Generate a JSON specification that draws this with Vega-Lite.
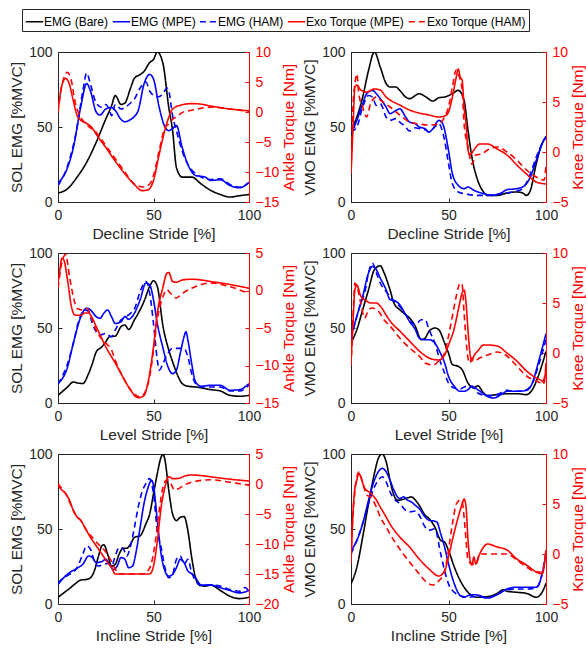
{
"$schema":"https://vega.github.io/schema/vega-lite/v6.json",
"padding":{"left":9,"top":8,"right":0,"bottom":0},
"config":{
 "view":{"stroke":"#262626","strokeWidth":1},
 "font":"Liberation Sans",
 "axis":{"labelFont":"Liberation Sans","titleFont":"Liberation Sans","labelFontSize":14,"titleFontSize":15.5,"titleFontWeight":"normal","labelColor":"#262626","titleColor":"#262626","domainColor":"#262626","tickColor":"#262626","grid":false,"tickSize":-4,"labelPadding":10,"titlePadding":4,"labelFlush":false,"labelOverlap":false},
 "legend":{"orient":"none","legendX":-36,"legendY":-43,"direction":"horizontal","labelFont":"Liberation Sans","labelFontSize":12,"labelColor":"#000000","symbolType":"stroke","symbolSize":300,"symbolStrokeWidth":1.5,"labelOffset":0,"columnPadding":0,"padding":3,"strokeColor":"#262626","fillColor":"white","title":null}
},
"data":{"values":[
{"p":"DS","s":"EB","x":0,"y":6},{"p":"DS","s":"EB","x":5,"y":8.8},{"p":"DS","s":"EB","x":10,"y":16.6},{"p":"DS","s":"EB","x":15,"y":26.5},{"p":"DS","s":"EB","x":20,"y":39.8},{"p":"DS","s":"EB","x":25,"y":55.3},{"p":"DS","s":"EB","x":28,"y":64},{"p":"DS","s":"EB","x":30,"y":71},{"p":"DS","s":"EB","x":33,"y":65},{"p":"DS","s":"EB","x":35,"y":66},{"p":"DS","s":"EB","x":38,"y":76},{"p":"DS","s":"EB","x":40,"y":82.5},{"p":"DS","s":"EB","x":43,"y":85},{"p":"DS","s":"EB","x":45,"y":87},{"p":"DS","s":"EB","x":48,"y":93},{"p":"DS","s":"EB","x":50,"y":95},{"p":"DS","s":"EB","x":52,"y":100},{"p":"DS","s":"EB","x":55,"y":92},{"p":"DS","s":"EB","x":58,"y":63},{"p":"DS","s":"EB","x":60,"y":47.6},{"p":"DS","s":"EB","x":62,"y":23},{"p":"DS","s":"EB","x":65,"y":16.6},{"p":"DS","s":"EB","x":70,"y":16.6},{"p":"DS","s":"EB","x":75,"y":12},{"p":"DS","s":"EB","x":80,"y":7.7},{"p":"DS","s":"EB","x":85,"y":5},{"p":"DS","s":"EB","x":90,"y":3.3},{"p":"DS","s":"EB","x":95,"y":4.2},{"p":"DS","s":"EB","x":100,"y":5},
{"p":"DS","s":"EM","x":0,"y":12.6},{"p":"DS","s":"EM","x":5,"y":23},{"p":"DS","s":"EM","x":8,"y":36},{"p":"DS","s":"EM","x":12,"y":64},{"p":"DS","s":"EM","x":15,"y":79},{"p":"DS","s":"EM","x":17,"y":74},{"p":"DS","s":"EM","x":20,"y":60},{"p":"DS","s":"EM","x":22,"y":58},{"p":"DS","s":"EM","x":25,"y":62},{"p":"DS","s":"EM","x":28,"y":63},{"p":"DS","s":"EM","x":30,"y":61},{"p":"DS","s":"EM","x":33,"y":55},{"p":"DS","s":"EM","x":35,"y":53.5},{"p":"DS","s":"EM","x":38,"y":55},{"p":"DS","s":"EM","x":40,"y":57},{"p":"DS","s":"EM","x":42,"y":61},{"p":"DS","s":"EM","x":45,"y":78.5},{"p":"DS","s":"EM","x":48,"y":85},{"p":"DS","s":"EM","x":50,"y":82},{"p":"DS","s":"EM","x":53,"y":63},{"p":"DS","s":"EM","x":56,"y":50},{"p":"DS","s":"EM","x":58,"y":47.6},{"p":"DS","s":"EM","x":60,"y":49},{"p":"DS","s":"EM","x":62,"y":51},{"p":"DS","s":"EM","x":65,"y":36.5},{"p":"DS","s":"EM","x":68,"y":25},{"p":"DS","s":"EM","x":72,"y":17.7},{"p":"DS","s":"EM","x":77,"y":16.6},{"p":"DS","s":"EM","x":80,"y":14.4},{"p":"DS","s":"EM","x":85,"y":14.8},{"p":"DS","s":"EM","x":90,"y":11},{"p":"DS","s":"EM","x":95,"y":9.5},{"p":"DS","s":"EM","x":100,"y":13},
{"p":"DS","s":"EH","x":0,"y":11},{"p":"DS","s":"EH","x":5,"y":24},{"p":"DS","s":"EH","x":10,"y":50},{"p":"DS","s":"EH","x":13,"y":74},{"p":"DS","s":"EH","x":15,"y":86},{"p":"DS","s":"EH","x":17,"y":78.5},{"p":"DS","s":"EH","x":20,"y":66},{"p":"DS","s":"EH","x":23,"y":63},{"p":"DS","s":"EH","x":25,"y":65},{"p":"DS","s":"EH","x":27,"y":61},{"p":"DS","s":"EH","x":28,"y":57.5},{"p":"DS","s":"EH","x":30,"y":65},{"p":"DS","s":"EH","x":33,"y":62},{"p":"DS","s":"EH","x":35,"y":63},{"p":"DS","s":"EH","x":38,"y":66},{"p":"DS","s":"EH","x":40,"y":68.6},{"p":"DS","s":"EH","x":43,"y":76},{"p":"DS","s":"EH","x":46,"y":80},{"p":"DS","s":"EH","x":48,"y":74},{"p":"DS","s":"EH","x":50,"y":71},{"p":"DS","s":"EH","x":52,"y":70},{"p":"DS","s":"EH","x":55,"y":72},{"p":"DS","s":"EH","x":57,"y":76},{"p":"DS","s":"EH","x":58,"y":74},{"p":"DS","s":"EH","x":60,"y":57.5},{"p":"DS","s":"EH","x":62,"y":47.6},{"p":"DS","s":"EH","x":65,"y":34},{"p":"DS","s":"EH","x":72,"y":19},{"p":"DS","s":"EH","x":80,"y":15},{"p":"DS","s":"EH","x":85,"y":15.5},{"p":"DS","s":"EH","x":90,"y":11.7},{"p":"DS","s":"EH","x":95,"y":10},{"p":"DS","s":"EH","x":100,"y":13},
{"p":"DS","s":"TM","x":0,"y":0.2},{"p":"DS","s":"TM","x":2,"y":4.4},{"p":"DS","s":"TM","x":4,"y":5.6},{"p":"DS","s":"TM","x":6,"y":4.6},{"p":"DS","s":"TM","x":8,"y":1.9},{"p":"DS","s":"TM","x":10,"y":-0.6},{"p":"DS","s":"TM","x":12,"y":-1.4},{"p":"DS","s":"TM","x":15,"y":-1.9},{"p":"DS","s":"TM","x":18,"y":-2.7},{"p":"DS","s":"TM","x":20,"y":-3.7},{"p":"DS","s":"TM","x":25,"y":-5.9},{"p":"DS","s":"TM","x":30,"y":-8.2},{"p":"DS","s":"TM","x":35,"y":-10.3},{"p":"DS","s":"TM","x":40,"y":-12.1},{"p":"DS","s":"TM","x":44,"y":-13.1},{"p":"DS","s":"TM","x":47,"y":-13},{"p":"DS","s":"TM","x":50,"y":-11.4},{"p":"DS","s":"TM","x":53,"y":-7},{"p":"DS","s":"TM","x":55,"y":-4.2},{"p":"DS","s":"TM","x":58,"y":-0.9},{"p":"DS","s":"TM","x":60,"y":0.5},{"p":"DS","s":"TM","x":65,"y":1.2},{"p":"DS","s":"TM","x":70,"y":1.4},{"p":"DS","s":"TM","x":75,"y":1.3},{"p":"DS","s":"TM","x":80,"y":1},{"p":"DS","s":"TM","x":90,"y":0.5},{"p":"DS","s":"TM","x":100,"y":0.2},
{"p":"DS","s":"TH","x":0,"y":-0.1},{"p":"DS","s":"TH","x":2,"y":4.4},{"p":"DS","s":"TH","x":5,"y":6.6},{"p":"DS","s":"TH","x":7,"y":5.2},{"p":"DS","s":"TH","x":9,"y":1.6},{"p":"DS","s":"TH","x":12,"y":-0.9},{"p":"DS","s":"TH","x":15,"y":-2.1},{"p":"DS","s":"TH","x":20,"y":-3.4},{"p":"DS","s":"TH","x":25,"y":-5.6},{"p":"DS","s":"TH","x":30,"y":-7.8},{"p":"DS","s":"TH","x":35,"y":-10},{"p":"DS","s":"TH","x":40,"y":-12},{"p":"DS","s":"TH","x":45,"y":-12.5},{"p":"DS","s":"TH","x":48,"y":-12},{"p":"DS","s":"TH","x":50,"y":-10.6},{"p":"DS","s":"TH","x":53,"y":-6.4},{"p":"DS","s":"TH","x":56,"y":-2.6},{"p":"DS","s":"TH","x":58,"y":-2},{"p":"DS","s":"TH","x":60,"y":-1.2},{"p":"DS","s":"TH","x":62,"y":-0.8},{"p":"DS","s":"TH","x":65,"y":-0.1},{"p":"DS","s":"TH","x":70,"y":0.3},{"p":"DS","s":"TH","x":80,"y":0.8},{"p":"DS","s":"TH","x":90,"y":0.5},{"p":"DS","s":"TH","x":100,"y":0.1},
{"p":"DV","s":"EB","x":0,"y":47.8},{"p":"DV","s":"EB","x":3,"y":56.7},{"p":"DV","s":"EB","x":6,"y":70},{"p":"DV","s":"EB","x":9,"y":87.8},{"p":"DV","s":"EB","x":12,"y":100},{"p":"DV","s":"EB","x":15,"y":90},{"p":"DV","s":"EB","x":18,"y":79},{"p":"DV","s":"EB","x":20,"y":76.7},{"p":"DV","s":"EB","x":23,"y":76.7},{"p":"DV","s":"EB","x":25,"y":74.4},{"p":"DV","s":"EB","x":28,"y":70},{"p":"DV","s":"EB","x":30,"y":68.9},{"p":"DV","s":"EB","x":35,"y":72.2},{"p":"DV","s":"EB","x":38,"y":70.4},{"p":"DV","s":"EB","x":42,"y":67.3},{"p":"DV","s":"EB","x":45,"y":69.5},{"p":"DV","s":"EB","x":48,"y":70},{"p":"DV","s":"EB","x":52,"y":72.2},{"p":"DV","s":"EB","x":55,"y":74.4},{"p":"DV","s":"EB","x":58,"y":67.8},{"p":"DV","s":"EB","x":60,"y":47.8},{"p":"DV","s":"EB","x":62,"y":30},{"p":"DV","s":"EB","x":65,"y":14.4},{"p":"DV","s":"EB","x":68,"y":6.7},{"p":"DV","s":"EB","x":70,"y":4.4},{"p":"DV","s":"EB","x":75,"y":4.4},{"p":"DV","s":"EB","x":80,"y":6},{"p":"DV","s":"EB","x":85,"y":6.7},{"p":"DV","s":"EB","x":88,"y":6},{"p":"DV","s":"EB","x":90,"y":4.4},{"p":"DV","s":"EB","x":92,"y":7.8},{"p":"DV","s":"EB","x":95,"y":25.6},{"p":"DV","s":"EB","x":98,"y":38.9},{"p":"DV","s":"EB","x":100,"y":43.3},
{"p":"DV","s":"EM","x":0,"y":45.6},{"p":"DV","s":"EM","x":3,"y":54.4},{"p":"DV","s":"EM","x":6,"y":65.6},{"p":"DV","s":"EM","x":8,"y":72.2},{"p":"DV","s":"EM","x":11,"y":74.4},{"p":"DV","s":"EM","x":13,"y":72.2},{"p":"DV","s":"EM","x":15,"y":68.9},{"p":"DV","s":"EM","x":18,"y":63.3},{"p":"DV","s":"EM","x":20,"y":58.9},{"p":"DV","s":"EM","x":23,"y":61},{"p":"DV","s":"EM","x":25,"y":62.2},{"p":"DV","s":"EM","x":28,"y":56.7},{"p":"DV","s":"EM","x":30,"y":53.3},{"p":"DV","s":"EM","x":33,"y":52.2},{"p":"DV","s":"EM","x":35,"y":50},{"p":"DV","s":"EM","x":38,"y":48.9},{"p":"DV","s":"EM","x":40,"y":46.7},{"p":"DV","s":"EM","x":42,"y":48.9},{"p":"DV","s":"EM","x":45,"y":54.4},{"p":"DV","s":"EM","x":47,"y":52.2},{"p":"DV","s":"EM","x":50,"y":34.4},{"p":"DV","s":"EM","x":52,"y":18.9},{"p":"DV","s":"EM","x":55,"y":11.1},{"p":"DV","s":"EM","x":58,"y":8.9},{"p":"DV","s":"EM","x":60,"y":10},{"p":"DV","s":"EM","x":63,"y":7.8},{"p":"DV","s":"EM","x":68,"y":5.6},{"p":"DV","s":"EM","x":72,"y":4.4},{"p":"DV","s":"EM","x":77,"y":6},{"p":"DV","s":"EM","x":80,"y":8.2},{"p":"DV","s":"EM","x":85,"y":8.9},{"p":"DV","s":"EM","x":88,"y":10},{"p":"DV","s":"EM","x":92,"y":16.7},{"p":"DV","s":"EM","x":95,"y":27.8},{"p":"DV","s":"EM","x":98,"y":38.9},{"p":"DV","s":"EM","x":100,"y":43.8},
{"p":"DV","s":"EH","x":0,"y":46.7},{"p":"DV","s":"EH","x":3,"y":50},{"p":"DV","s":"EH","x":6,"y":63.3},{"p":"DV","s":"EH","x":9,"y":71},{"p":"DV","s":"EH","x":11,"y":70},{"p":"DV","s":"EH","x":13,"y":64.4},{"p":"DV","s":"EH","x":15,"y":65.6},{"p":"DV","s":"EH","x":18,"y":56.7},{"p":"DV","s":"EH","x":20,"y":54.4},{"p":"DV","s":"EH","x":23,"y":55.6},{"p":"DV","s":"EH","x":25,"y":53.3},{"p":"DV","s":"EH","x":28,"y":50},{"p":"DV","s":"EH","x":30,"y":47.3},{"p":"DV","s":"EH","x":33,"y":49.5},{"p":"DV","s":"EH","x":35,"y":48.9},{"p":"DV","s":"EH","x":38,"y":48.2},{"p":"DV","s":"EH","x":40,"y":46.7},{"p":"DV","s":"EH","x":43,"y":50},{"p":"DV","s":"EH","x":45,"y":52.2},{"p":"DV","s":"EH","x":48,"y":41},{"p":"DV","s":"EH","x":50,"y":25.6},{"p":"DV","s":"EH","x":52,"y":12.2},{"p":"DV","s":"EH","x":55,"y":6.7},{"p":"DV","s":"EH","x":60,"y":5.1},{"p":"DV","s":"EH","x":65,"y":4.4},{"p":"DV","s":"EH","x":70,"y":4.4},{"p":"DV","s":"EH","x":75,"y":5.1},{"p":"DV","s":"EH","x":80,"y":6},{"p":"DV","s":"EH","x":85,"y":7.3},{"p":"DV","s":"EH","x":88,"y":8.9},{"p":"DV","s":"EH","x":92,"y":18.9},{"p":"DV","s":"EH","x":95,"y":30},{"p":"DV","s":"EH","x":98,"y":38.9},{"p":"DV","s":"EH","x":100,"y":43.3},
{"p":"DV","s":"TM","x":0,"y":-2.2},{"p":"DV","s":"TM","x":1,"y":2.2},{"p":"DV","s":"TM","x":2,"y":6.5},{"p":"DV","s":"TM","x":3,"y":6.7},{"p":"DV","s":"TM","x":5,"y":6.2},{"p":"DV","s":"TM","x":8,"y":6},{"p":"DV","s":"TM","x":12,"y":6.3},{"p":"DV","s":"TM","x":15,"y":6.2},{"p":"DV","s":"TM","x":18,"y":5.5},{"p":"DV","s":"TM","x":20,"y":5.2},{"p":"DV","s":"TM","x":25,"y":4.7},{"p":"DV","s":"TM","x":30,"y":4.2},{"p":"DV","s":"TM","x":35,"y":3.9},{"p":"DV","s":"TM","x":40,"y":3.7},{"p":"DV","s":"TM","x":45,"y":3.5},{"p":"DV","s":"TM","x":48,"y":3.6},{"p":"DV","s":"TM","x":50,"y":4},{"p":"DV","s":"TM","x":52,"y":5.5},{"p":"DV","s":"TM","x":54,"y":7.5},{"p":"DV","s":"TM","x":55,"y":8.3},{"p":"DV","s":"TM","x":56,"y":7.5},{"p":"DV","s":"TM","x":57,"y":7.2},{"p":"DV","s":"TM","x":58,"y":4.5},{"p":"DV","s":"TM","x":59,"y":2.8},{"p":"DV","s":"TM","x":60,"y":0.2},{"p":"DV","s":"TM","x":61,"y":-0.3},{"p":"DV","s":"TM","x":63,"y":0.2},{"p":"DV","s":"TM","x":66,"y":0.8},{"p":"DV","s":"TM","x":70,"y":0.8},{"p":"DV","s":"TM","x":75,"y":0.3},{"p":"DV","s":"TM","x":80,"y":-0.3},{"p":"DV","s":"TM","x":85,"y":-1.3},{"p":"DV","s":"TM","x":90,"y":-2.2},{"p":"DV","s":"TM","x":95,"y":-3},{"p":"DV","s":"TM","x":100,"y":-3.2},
{"p":"DV","s":"TH","x":0,"y":-2},{"p":"DV","s":"TH","x":1,"y":4.5},{"p":"DV","s":"TH","x":2,"y":6.8},{"p":"DV","s":"TH","x":3,"y":7.8},{"p":"DV","s":"TH","x":4,"y":5.8},{"p":"DV","s":"TH","x":6,"y":4.5},{"p":"DV","s":"TH","x":8,"y":3.5},{"p":"DV","s":"TH","x":10,"y":4.8},{"p":"DV","s":"TH","x":13,"y":5.5},{"p":"DV","s":"TH","x":15,"y":5.2},{"p":"DV","s":"TH","x":20,"y":4.5},{"p":"DV","s":"TH","x":25,"y":3.7},{"p":"DV","s":"TH","x":30,"y":3},{"p":"DV","s":"TH","x":35,"y":2.8},{"p":"DV","s":"TH","x":40,"y":2.7},{"p":"DV","s":"TH","x":45,"y":2.8},{"p":"DV","s":"TH","x":48,"y":3.5},{"p":"DV","s":"TH","x":50,"y":4.5},{"p":"DV","s":"TH","x":52,"y":6.5},{"p":"DV","s":"TH","x":54,"y":8.2},{"p":"DV","s":"TH","x":55,"y":7.8},{"p":"DV","s":"TH","x":57,"y":6.2},{"p":"DV","s":"TH","x":58,"y":2.8},{"p":"DV","s":"TH","x":60,"y":0.5},{"p":"DV","s":"TH","x":62,"y":-1.2},{"p":"DV","s":"TH","x":64,"y":-0.3},{"p":"DV","s":"TH","x":67,"y":-0.2},{"p":"DV","s":"TH","x":70,"y":0.2},{"p":"DV","s":"TH","x":75,"y":0.5},{"p":"DV","s":"TH","x":80,"y":0},{"p":"DV","s":"TH","x":85,"y":-0.8},{"p":"DV","s":"TH","x":90,"y":-1.8},{"p":"DV","s":"TH","x":95,"y":-2.5},{"p":"DV","s":"TH","x":99,"y":-2.8},{"p":"DV","s":"TH","x":100,"y":-1.3},
{"p":"LS","s":"EB","x":0,"y":5.1},{"p":"LS","s":"EB","x":5,"y":10.7},{"p":"LS","s":"EB","x":8,"y":14},{"p":"LS","s":"EB","x":10,"y":13.4},{"p":"LS","s":"EB","x":13,"y":13},{"p":"LS","s":"EB","x":16,"y":19.6},{"p":"LS","s":"EB","x":18,"y":26.3},{"p":"LS","s":"EB","x":20,"y":34},{"p":"LS","s":"EB","x":23,"y":37.5},{"p":"LS","s":"EB","x":25,"y":40.8},{"p":"LS","s":"EB","x":27,"y":44.2},{"p":"LS","s":"EB","x":30,"y":44.6},{"p":"LS","s":"EB","x":33,"y":50.9},{"p":"LS","s":"EB","x":35,"y":52},{"p":"LS","s":"EB","x":37,"y":49},{"p":"LS","s":"EB","x":40,"y":55.4},{"p":"LS","s":"EB","x":42,"y":59.8},{"p":"LS","s":"EB","x":45,"y":67.6},{"p":"LS","s":"EB","x":48,"y":77.7},{"p":"LS","s":"EB","x":50,"y":81.5},{"p":"LS","s":"EB","x":52,"y":77.7},{"p":"LS","s":"EB","x":55,"y":50.9},{"p":"LS","s":"EB","x":58,"y":35.3},{"p":"LS","s":"EB","x":60,"y":27.5},{"p":"LS","s":"EB","x":63,"y":17.4},{"p":"LS","s":"EB","x":65,"y":13},{"p":"LS","s":"EB","x":68,"y":11.2},{"p":"LS","s":"EB","x":72,"y":10.7},{"p":"LS","s":"EB","x":80,"y":8.9},{"p":"LS","s":"EB","x":85,"y":8},{"p":"LS","s":"EB","x":90,"y":5.1},{"p":"LS","s":"EB","x":95,"y":4.5},{"p":"LS","s":"EB","x":100,"y":5.1},
{"p":"LS","s":"EM","x":0,"y":13},{"p":"LS","s":"EM","x":5,"y":24},{"p":"LS","s":"EM","x":8,"y":39.7},{"p":"LS","s":"EM","x":12,"y":57.6},{"p":"LS","s":"EM","x":15,"y":63.2},{"p":"LS","s":"EM","x":17,"y":62},{"p":"LS","s":"EM","x":20,"y":57.6},{"p":"LS","s":"EM","x":22,"y":56.5},{"p":"LS","s":"EM","x":24,"y":59.8},{"p":"LS","s":"EM","x":26,"y":62},{"p":"LS","s":"EM","x":28,"y":57.6},{"p":"LS","s":"EM","x":30,"y":53},{"p":"LS","s":"EM","x":33,"y":54.2},{"p":"LS","s":"EM","x":35,"y":57.6},{"p":"LS","s":"EM","x":37,"y":55.8},{"p":"LS","s":"EM","x":40,"y":59.8},{"p":"LS","s":"EM","x":43,"y":68.8},{"p":"LS","s":"EM","x":46,"y":80},{"p":"LS","s":"EM","x":48,"y":78.8},{"p":"LS","s":"EM","x":50,"y":68.8},{"p":"LS","s":"EM","x":52,"y":53},{"p":"LS","s":"EM","x":55,"y":36.4},{"p":"LS","s":"EM","x":57,"y":26.3},{"p":"LS","s":"EM","x":60,"y":19.6},{"p":"LS","s":"EM","x":62,"y":21.9},{"p":"LS","s":"EM","x":64,"y":33},{"p":"LS","s":"EM","x":66,"y":44.2},{"p":"LS","s":"EM","x":67,"y":47.5},{"p":"LS","s":"EM","x":68,"y":42},{"p":"LS","s":"EM","x":70,"y":26.3},{"p":"LS","s":"EM","x":72,"y":14},{"p":"LS","s":"EM","x":75,"y":11.2},{"p":"LS","s":"EM","x":80,"y":11.8},{"p":"LS","s":"EM","x":85,"y":11.8},{"p":"LS","s":"EM","x":90,"y":8.5},{"p":"LS","s":"EM","x":95,"y":8.9},{"p":"LS","s":"EM","x":100,"y":13},
{"p":"LS","s":"EH","x":0,"y":12.5},{"p":"LS","s":"EH","x":5,"y":26.3},{"p":"LS","s":"EH","x":8,"y":39.7},{"p":"LS","s":"EH","x":11,"y":55.4},{"p":"LS","s":"EH","x":14,"y":62},{"p":"LS","s":"EH","x":16,"y":61},{"p":"LS","s":"EH","x":18,"y":53},{"p":"LS","s":"EH","x":20,"y":47.5},{"p":"LS","s":"EH","x":22,"y":45.3},{"p":"LS","s":"EH","x":25,"y":46.4},{"p":"LS","s":"EH","x":28,"y":44.2},{"p":"LS","s":"EH","x":30,"y":48.7},{"p":"LS","s":"EH","x":33,"y":55.4},{"p":"LS","s":"EH","x":35,"y":57.1},{"p":"LS","s":"EH","x":38,"y":59.8},{"p":"LS","s":"EH","x":40,"y":62.5},{"p":"LS","s":"EH","x":43,"y":74.3},{"p":"LS","s":"EH","x":46,"y":81},{"p":"LS","s":"EH","x":48,"y":73.2},{"p":"LS","s":"EH","x":50,"y":53},{"p":"LS","s":"EH","x":52,"y":28.6},{"p":"LS","s":"EH","x":53,"y":21.9},{"p":"LS","s":"EH","x":55,"y":26.3},{"p":"LS","s":"EH","x":57,"y":31.9},{"p":"LS","s":"EH","x":60,"y":36.4},{"p":"LS","s":"EH","x":63,"y":36.4},{"p":"LS","s":"EH","x":66,"y":36.4},{"p":"LS","s":"EH","x":68,"y":30.8},{"p":"LS","s":"EH","x":70,"y":19.6},{"p":"LS","s":"EH","x":72,"y":13},{"p":"LS","s":"EH","x":75,"y":10.7},{"p":"LS","s":"EH","x":80,"y":10.7},{"p":"LS","s":"EH","x":85,"y":10.7},{"p":"LS","s":"EH","x":90,"y":8},{"p":"LS","s":"EH","x":95,"y":8},{"p":"LS","s":"EH","x":100,"y":11.8},
{"p":"LS","s":"TM","x":0,"y":1},{"p":"LS","s":"TM","x":1,"y":2.8},{"p":"LS","s":"TM","x":2,"y":4.3},{"p":"LS","s":"TM","x":3,"y":4.1},{"p":"LS","s":"TM","x":5,"y":1.4},{"p":"LS","s":"TM","x":7,"y":-2.1},{"p":"LS","s":"TM","x":9,"y":-3.3},{"p":"LS","s":"TM","x":12,"y":-3.3},{"p":"LS","s":"TM","x":14,"y":-3},{"p":"LS","s":"TM","x":16,"y":-3},{"p":"LS","s":"TM","x":18,"y":-3.7},{"p":"LS","s":"TM","x":20,"y":-4.8},{"p":"LS","s":"TM","x":25,"y":-7.5},{"p":"LS","s":"TM","x":30,"y":-9.7},{"p":"LS","s":"TM","x":35,"y":-12},{"p":"LS","s":"TM","x":38,"y":-13.3},{"p":"LS","s":"TM","x":42,"y":-14.3},{"p":"LS","s":"TM","x":45,"y":-14},{"p":"LS","s":"TM","x":47,"y":-12.4},{"p":"LS","s":"TM","x":50,"y":-7.5},{"p":"LS","s":"TM","x":52,"y":-3},{"p":"LS","s":"TM","x":55,"y":0.5},{"p":"LS","s":"TM","x":57,"y":2.3},{"p":"LS","s":"TM","x":58,"y":2.4},{"p":"LS","s":"TM","x":60,"y":1.2},{"p":"LS","s":"TM","x":62,"y":1.1},{"p":"LS","s":"TM","x":65,"y":1.4},{"p":"LS","s":"TM","x":70,"y":1.5},{"p":"LS","s":"TM","x":75,"y":1.4},{"p":"LS","s":"TM","x":80,"y":1.2},{"p":"LS","s":"TM","x":90,"y":0.8},{"p":"LS","s":"TM","x":100,"y":0.3},
{"p":"LS","s":"TH","x":0,"y":0.3},{"p":"LS","s":"TH","x":2,"y":3.7},{"p":"LS","s":"TH","x":4,"y":4.8},{"p":"LS","s":"TH","x":6,"y":1.9},{"p":"LS","s":"TH","x":8,"y":-0.8},{"p":"LS","s":"TH","x":10,"y":-2.4},{"p":"LS","s":"TH","x":13,"y":-2.6},{"p":"LS","s":"TH","x":15,"y":-2.4},{"p":"LS","s":"TH","x":18,"y":-3.9},{"p":"LS","s":"TH","x":20,"y":-5.3},{"p":"LS","s":"TH","x":25,"y":-7},{"p":"LS","s":"TH","x":28,"y":-7.9},{"p":"LS","s":"TH","x":30,"y":-9.3},{"p":"LS","s":"TH","x":35,"y":-12},{"p":"LS","s":"TH","x":40,"y":-13.8},{"p":"LS","s":"TH","x":43,"y":-14.2},{"p":"LS","s":"TH","x":46,"y":-13.3},{"p":"LS","s":"TH","x":48,"y":-11.5},{"p":"LS","s":"TH","x":50,"y":-8},{"p":"LS","s":"TH","x":52,"y":-3.9},{"p":"LS","s":"TH","x":55,"y":-0.8},{"p":"LS","s":"TH","x":57,"y":0.1},{"p":"LS","s":"TH","x":59,"y":-0.4},{"p":"LS","s":"TH","x":62,"y":-1},{"p":"LS","s":"TH","x":65,"y":-0.4},{"p":"LS","s":"TH","x":70,"y":0.3},{"p":"LS","s":"TH","x":75,"y":0.8},{"p":"LS","s":"TH","x":80,"y":1},{"p":"LS","s":"TH","x":90,"y":0.5},{"p":"LS","s":"TH","x":100,"y":-0.4},
{"p":"LV","s":"EB","x":0,"y":40},{"p":"LV","s":"EB","x":3,"y":48.9},{"p":"LV","s":"EB","x":6,"y":62.2},{"p":"LV","s":"EB","x":9,"y":75.5},{"p":"LV","s":"EB","x":12,"y":88.9},{"p":"LV","s":"EB","x":15,"y":91.5},{"p":"LV","s":"EB","x":17,"y":86.7},{"p":"LV","s":"EB","x":20,"y":75.5},{"p":"LV","s":"EB","x":22,"y":66.7},{"p":"LV","s":"EB","x":25,"y":62.2},{"p":"LV","s":"EB","x":28,"y":58.9},{"p":"LV","s":"EB","x":30,"y":56.7},{"p":"LV","s":"EB","x":33,"y":51.1},{"p":"LV","s":"EB","x":36,"y":42.2},{"p":"LV","s":"EB","x":38,"y":43.3},{"p":"LV","s":"EB","x":40,"y":47.8},{"p":"LV","s":"EB","x":43,"y":50},{"p":"LV","s":"EB","x":45,"y":48.9},{"p":"LV","s":"EB","x":48,"y":40},{"p":"LV","s":"EB","x":50,"y":33.3},{"p":"LV","s":"EB","x":52,"y":25.6},{"p":"LV","s":"EB","x":55,"y":24.4},{"p":"LV","s":"EB","x":57,"y":22.2},{"p":"LV","s":"EB","x":60,"y":13.3},{"p":"LV","s":"EB","x":63,"y":10},{"p":"LV","s":"EB","x":65,"y":11.5},{"p":"LV","s":"EB","x":68,"y":6.7},{"p":"LV","s":"EB","x":70,"y":4.9},{"p":"LV","s":"EB","x":75,"y":5.6},{"p":"LV","s":"EB","x":80,"y":6.2},{"p":"LV","s":"EB","x":85,"y":6.2},{"p":"LV","s":"EB","x":90,"y":5.6},{"p":"LV","s":"EB","x":93,"y":8.9},{"p":"LV","s":"EB","x":96,"y":17.8},{"p":"LV","s":"EB","x":100,"y":34.4},
{"p":"LV","s":"EM","x":0,"y":44.4},{"p":"LV","s":"EM","x":3,"y":57.8},{"p":"LV","s":"EM","x":6,"y":71.1},{"p":"LV","s":"EM","x":9,"y":86.7},{"p":"LV","s":"EM","x":11,"y":91.1},{"p":"LV","s":"EM","x":13,"y":88.9},{"p":"LV","s":"EM","x":15,"y":83.3},{"p":"LV","s":"EM","x":18,"y":75.5},{"p":"LV","s":"EM","x":20,"y":68.9},{"p":"LV","s":"EM","x":23,"y":67.8},{"p":"LV","s":"EM","x":25,"y":65.5},{"p":"LV","s":"EM","x":28,"y":58.9},{"p":"LV","s":"EM","x":30,"y":54.4},{"p":"LV","s":"EM","x":33,"y":48.9},{"p":"LV","s":"EM","x":35,"y":43.3},{"p":"LV","s":"EM","x":38,"y":42.2},{"p":"LV","s":"EM","x":40,"y":42.2},{"p":"LV","s":"EM","x":43,"y":40},{"p":"LV","s":"EM","x":45,"y":35.5},{"p":"LV","s":"EM","x":48,"y":26.7},{"p":"LV","s":"EM","x":50,"y":17.8},{"p":"LV","s":"EM","x":53,"y":11.1},{"p":"LV","s":"EM","x":56,"y":7.8},{"p":"LV","s":"EM","x":58,"y":7.8},{"p":"LV","s":"EM","x":60,"y":8.9},{"p":"LV","s":"EM","x":62,"y":11.1},{"p":"LV","s":"EM","x":65,"y":8.9},{"p":"LV","s":"EM","x":70,"y":4.4},{"p":"LV","s":"EM","x":73,"y":3.3},{"p":"LV","s":"EM","x":77,"y":5.6},{"p":"LV","s":"EM","x":80,"y":7.8},{"p":"LV","s":"EM","x":85,"y":7.8},{"p":"LV","s":"EM","x":90,"y":8.4},{"p":"LV","s":"EM","x":93,"y":13.3},{"p":"LV","s":"EM","x":96,"y":26.7},{"p":"LV","s":"EM","x":100,"y":46.2},
{"p":"LV","s":"EH","x":0,"y":42.2},{"p":"LV","s":"EH","x":3,"y":57.8},{"p":"LV","s":"EH","x":5,"y":66.7},{"p":"LV","s":"EH","x":7,"y":73.3},{"p":"LV","s":"EH","x":9,"y":86.7},{"p":"LV","s":"EH","x":11,"y":93.3},{"p":"LV","s":"EH","x":13,"y":86.7},{"p":"LV","s":"EH","x":15,"y":80},{"p":"LV","s":"EH","x":18,"y":74.4},{"p":"LV","s":"EH","x":20,"y":71.1},{"p":"LV","s":"EH","x":23,"y":66.7},{"p":"LV","s":"EH","x":25,"y":64.4},{"p":"LV","s":"EH","x":28,"y":58.9},{"p":"LV","s":"EH","x":30,"y":55.5},{"p":"LV","s":"EH","x":33,"y":52.2},{"p":"LV","s":"EH","x":36,"y":55.5},{"p":"LV","s":"EH","x":38,"y":55.5},{"p":"LV","s":"EH","x":40,"y":48.9},{"p":"LV","s":"EH","x":43,"y":40},{"p":"LV","s":"EH","x":46,"y":26.7},{"p":"LV","s":"EH","x":48,"y":20},{"p":"LV","s":"EH","x":50,"y":13.3},{"p":"LV","s":"EH","x":53,"y":10},{"p":"LV","s":"EH","x":56,"y":9.3},{"p":"LV","s":"EH","x":59,"y":11.1},{"p":"LV","s":"EH","x":62,"y":11.1},{"p":"LV","s":"EH","x":65,"y":6.7},{"p":"LV","s":"EH","x":70,"y":4.9},{"p":"LV","s":"EH","x":75,"y":5.6},{"p":"LV","s":"EH","x":80,"y":8.4},{"p":"LV","s":"EH","x":85,"y":7.8},{"p":"LV","s":"EH","x":90,"y":8.9},{"p":"LV","s":"EH","x":93,"y":13.3},{"p":"LV","s":"EH","x":96,"y":24.4},{"p":"LV","s":"EH","x":100,"y":42.2},
{"p":"LV","s":"TM","x":0,"y":-1},{"p":"LV","s":"TM","x":1,"y":3},{"p":"LV","s":"TM","x":2,"y":6.3},{"p":"LV","s":"TM","x":3,"y":6.8},{"p":"LV","s":"TM","x":5,"y":5.7},{"p":"LV","s":"TM","x":8,"y":5.2},{"p":"LV","s":"TM","x":10,"y":5},{"p":"LV","s":"TM","x":13,"y":5},{"p":"LV","s":"TM","x":15,"y":4.7},{"p":"LV","s":"TM","x":18,"y":3.8},{"p":"LV","s":"TM","x":20,"y":3.2},{"p":"LV","s":"TM","x":25,"y":2.2},{"p":"LV","s":"TM","x":30,"y":1.2},{"p":"LV","s":"TM","x":35,"y":0.2},{"p":"LV","s":"TM","x":40,"y":-0.5},{"p":"LV","s":"TM","x":45,"y":-0.7},{"p":"LV","s":"TM","x":48,"y":-0.2},{"p":"LV","s":"TM","x":50,"y":0.8},{"p":"LV","s":"TM","x":53,"y":2.5},{"p":"LV","s":"TM","x":55,"y":4.3},{"p":"LV","s":"TM","x":57,"y":6},{"p":"LV","s":"TM","x":58,"y":6.3},{"p":"LV","s":"TM","x":59,"y":5},{"p":"LV","s":"TM","x":60,"y":2.3},{"p":"LV","s":"TM","x":61,"y":0},{"p":"LV","s":"TM","x":62,"y":-0.8},{"p":"LV","s":"TM","x":63,"y":-0.3},{"p":"LV","s":"TM","x":65,"y":0.2},{"p":"LV","s":"TM","x":68,"y":0.8},{"p":"LV","s":"TM","x":70,"y":0.8},{"p":"LV","s":"TM","x":75,"y":0.7},{"p":"LV","s":"TM","x":80,"y":0},{"p":"LV","s":"TM","x":85,"y":-0.8},{"p":"LV","s":"TM","x":90,"y":-1.8},{"p":"LV","s":"TM","x":95,"y":-2.5},{"p":"LV","s":"TM","x":98,"y":-2.8},{"p":"LV","s":"TM","x":99,"y":-3},{"p":"LV","s":"TM","x":100,"y":-1},
{"p":"LV","s":"TH","x":0,"y":-1.3},{"p":"LV","s":"TH","x":1,"y":3.3},{"p":"LV","s":"TH","x":2,"y":7},{"p":"LV","s":"TH","x":3,"y":6.7},{"p":"LV","s":"TH","x":5,"y":5},{"p":"LV","s":"TH","x":7,"y":3.5},{"p":"LV","s":"TH","x":9,"y":4.3},{"p":"LV","s":"TH","x":11,"y":4.5},{"p":"LV","s":"TH","x":14,"y":4.2},{"p":"LV","s":"TH","x":17,"y":3.3},{"p":"LV","s":"TH","x":20,"y":2.7},{"p":"LV","s":"TH","x":25,"y":1.5},{"p":"LV","s":"TH","x":30,"y":0.5},{"p":"LV","s":"TH","x":35,"y":-0.3},{"p":"LV","s":"TH","x":38,"y":-1},{"p":"LV","s":"TH","x":42,"y":-1.2},{"p":"LV","s":"TH","x":45,"y":-0.8},{"p":"LV","s":"TH","x":48,"y":0},{"p":"LV","s":"TH","x":50,"y":1.7},{"p":"LV","s":"TH","x":52,"y":3.7},{"p":"LV","s":"TH","x":54,"y":5.7},{"p":"LV","s":"TH","x":56,"y":7},{"p":"LV","s":"TH","x":57,"y":6.8},{"p":"LV","s":"TH","x":58,"y":4},{"p":"LV","s":"TH","x":59,"y":1.3},{"p":"LV","s":"TH","x":60,"y":-0.5},{"p":"LV","s":"TH","x":61,"y":-1},{"p":"LV","s":"TH","x":62,"y":-0.5},{"p":"LV","s":"TH","x":64,"y":-0.7},{"p":"LV","s":"TH","x":66,"y":-0.5},{"p":"LV","s":"TH","x":70,"y":-0.2},{"p":"LV","s":"TH","x":75,"y":0.1},{"p":"LV","s":"TH","x":80,"y":-0.3},{"p":"LV","s":"TH","x":85,"y":-1.3},{"p":"LV","s":"TH","x":90,"y":-2.3},{"p":"LV","s":"TH","x":95,"y":-2.8},{"p":"LV","s":"TH","x":98,"y":-3},{"p":"LV","s":"TH","x":100,"y":-1.7},
{"p":"IS","s":"EB","x":0,"y":4.5},{"p":"IS","s":"EB","x":3,"y":7.4},{"p":"IS","s":"EB","x":6,"y":10.3},{"p":"IS","s":"EB","x":9,"y":13.5},{"p":"IS","s":"EB","x":12,"y":16},{"p":"IS","s":"EB","x":15,"y":16.4},{"p":"IS","s":"EB","x":17,"y":17.5},{"p":"IS","s":"EB","x":19,"y":22},{"p":"IS","s":"EB","x":21,"y":31},{"p":"IS","s":"EB","x":23,"y":38.8},{"p":"IS","s":"EB","x":24,"y":39.5},{"p":"IS","s":"EB","x":26,"y":33.2},{"p":"IS","s":"EB","x":28,"y":25.3},{"p":"IS","s":"EB","x":30,"y":26.5},{"p":"IS","s":"EB","x":32,"y":33.2},{"p":"IS","s":"EB","x":34,"y":37.2},{"p":"IS","s":"EB","x":36,"y":37.2},{"p":"IS","s":"EB","x":38,"y":40},{"p":"IS","s":"EB","x":40,"y":44.4},{"p":"IS","s":"EB","x":43,"y":45.5},{"p":"IS","s":"EB","x":46,"y":53.4},{"p":"IS","s":"EB","x":48,"y":60},{"p":"IS","s":"EB","x":50,"y":73.5},{"p":"IS","s":"EB","x":52,"y":87},{"p":"IS","s":"EB","x":54,"y":98},{"p":"IS","s":"EB","x":55,"y":100},{"p":"IS","s":"EB","x":56,"y":96},{"p":"IS","s":"EB","x":58,"y":75.8},{"p":"IS","s":"EB","x":60,"y":60},{"p":"IS","s":"EB","x":62,"y":55.6},{"p":"IS","s":"EB","x":64,"y":57.8},{"p":"IS","s":"EB","x":66,"y":58.3},{"p":"IS","s":"EB","x":68,"y":48.9},{"p":"IS","s":"EB","x":70,"y":31},{"p":"IS","s":"EB","x":72,"y":17.5},{"p":"IS","s":"EB","x":74,"y":12.6},{"p":"IS","s":"EB","x":77,"y":11.9},{"p":"IS","s":"EB","x":80,"y":12.6},{"p":"IS","s":"EB","x":85,"y":9},{"p":"IS","s":"EB","x":90,"y":5.2},{"p":"IS","s":"EB","x":95,"y":3.6},{"p":"IS","s":"EB","x":100,"y":4.5},
{"p":"IS","s":"EM","x":0,"y":13},{"p":"IS","s":"EM","x":3,"y":17.5},{"p":"IS","s":"EM","x":6,"y":20.9},{"p":"IS","s":"EM","x":10,"y":23.8},{"p":"IS","s":"EM","x":13,"y":26.5},{"p":"IS","s":"EM","x":16,"y":32},{"p":"IS","s":"EM","x":18,"y":31},{"p":"IS","s":"EM","x":20,"y":27.6},{"p":"IS","s":"EM","x":23,"y":28.3},{"p":"IS","s":"EM","x":25,"y":29.8},{"p":"IS","s":"EM","x":27,"y":26.5},{"p":"IS","s":"EM","x":29,"y":23},{"p":"IS","s":"EM","x":31,"y":25.3},{"p":"IS","s":"EM","x":33,"y":31},{"p":"IS","s":"EM","x":35,"y":29.8},{"p":"IS","s":"EM","x":37,"y":24.2},{"p":"IS","s":"EM","x":39,"y":25.3},{"p":"IS","s":"EM","x":41,"y":35.4},{"p":"IS","s":"EM","x":43,"y":51},{"p":"IS","s":"EM","x":45,"y":66.8},{"p":"IS","s":"EM","x":47,"y":77},{"p":"IS","s":"EM","x":49,"y":82.5},{"p":"IS","s":"EM","x":50,"y":79},{"p":"IS","s":"EM","x":52,"y":55.6},{"p":"IS","s":"EM","x":54,"y":33.2},{"p":"IS","s":"EM","x":56,"y":22},{"p":"IS","s":"EM","x":58,"y":18.6},{"p":"IS","s":"EM","x":60,"y":19.7},{"p":"IS","s":"EM","x":62,"y":24.2},{"p":"IS","s":"EM","x":64,"y":29.8},{"p":"IS","s":"EM","x":66,"y":27.6},{"p":"IS","s":"EM","x":68,"y":22},{"p":"IS","s":"EM","x":70,"y":20.2},{"p":"IS","s":"EM","x":72,"y":17.5},{"p":"IS","s":"EM","x":75,"y":12.6},{"p":"IS","s":"EM","x":80,"y":12.6},{"p":"IS","s":"EM","x":85,"y":10.8},{"p":"IS","s":"EM","x":90,"y":9},{"p":"IS","s":"EM","x":95,"y":7.4},{"p":"IS","s":"EM","x":100,"y":9},
{"p":"IS","s":"EH","x":0,"y":14.1},{"p":"IS","s":"EH","x":3,"y":17.5},{"p":"IS","s":"EH","x":6,"y":19.7},{"p":"IS","s":"EH","x":10,"y":24.2},{"p":"IS","s":"EH","x":13,"y":33.2},{"p":"IS","s":"EH","x":15,"y":38.8},{"p":"IS","s":"EH","x":17,"y":36.5},{"p":"IS","s":"EH","x":19,"y":28.7},{"p":"IS","s":"EH","x":21,"y":25.3},{"p":"IS","s":"EH","x":24,"y":26.5},{"p":"IS","s":"EH","x":26,"y":27},{"p":"IS","s":"EH","x":28,"y":25.3},{"p":"IS","s":"EH","x":30,"y":32},{"p":"IS","s":"EH","x":32,"y":37.7},{"p":"IS","s":"EH","x":34,"y":37.2},{"p":"IS","s":"EH","x":36,"y":32},{"p":"IS","s":"EH","x":38,"y":38.8},{"p":"IS","s":"EH","x":40,"y":51},{"p":"IS","s":"EH","x":42,"y":64.6},{"p":"IS","s":"EH","x":44,"y":74.7},{"p":"IS","s":"EH","x":46,"y":80.3},{"p":"IS","s":"EH","x":48,"y":83.6},{"p":"IS","s":"EH","x":50,"y":73.5},{"p":"IS","s":"EH","x":52,"y":48.9},{"p":"IS","s":"EH","x":54,"y":37.7},{"p":"IS","s":"EH","x":56,"y":24.2},{"p":"IS","s":"EH","x":58,"y":17.5},{"p":"IS","s":"EH","x":60,"y":19.7},{"p":"IS","s":"EH","x":62,"y":29.8},{"p":"IS","s":"EH","x":64,"y":32},{"p":"IS","s":"EH","x":66,"y":26.5},{"p":"IS","s":"EH","x":68,"y":29.8},{"p":"IS","s":"EH","x":70,"y":20.9},{"p":"IS","s":"EH","x":73,"y":14.1},{"p":"IS","s":"EH","x":75,"y":12.6},{"p":"IS","s":"EH","x":80,"y":12.6},{"p":"IS","s":"EH","x":85,"y":11.9},{"p":"IS","s":"EH","x":90,"y":9.6},{"p":"IS","s":"EH","x":95,"y":8.5},{"p":"IS","s":"EH","x":98,"y":11},{"p":"IS","s":"EH","x":100,"y":8},
{"p":"IS","s":"TM","x":0,"y":-0.2},{"p":"IS","s":"TM","x":2,"y":-1},{"p":"IS","s":"TM","x":4,"y":-1.6},{"p":"IS","s":"TM","x":6,"y":-2.7},{"p":"IS","s":"TM","x":8,"y":-4.4},{"p":"IS","s":"TM","x":10,"y":-5.5},{"p":"IS","s":"TM","x":12,"y":-6.1},{"p":"IS","s":"TM","x":14,"y":-7.2},{"p":"IS","s":"TM","x":17,"y":-8.9},{"p":"IS","s":"TM","x":20,"y":-10.3},{"p":"IS","s":"TM","x":23,"y":-11.7},{"p":"IS","s":"TM","x":26,"y":-13.1},{"p":"IS","s":"TM","x":28,"y":-13.9},{"p":"IS","s":"TM","x":30,"y":-15},{"p":"IS","s":"TM","x":35,"y":-15},{"p":"IS","s":"TM","x":40,"y":-15},{"p":"IS","s":"TM","x":45,"y":-15},{"p":"IS","s":"TM","x":48,"y":-15},{"p":"IS","s":"TM","x":50,"y":-13.7},{"p":"IS","s":"TM","x":52,"y":-9.5},{"p":"IS","s":"TM","x":54,"y":-3.9},{"p":"IS","s":"TM","x":56,"y":-0.5},{"p":"IS","s":"TM","x":58,"y":1.2},{"p":"IS","s":"TM","x":60,"y":0.9},{"p":"IS","s":"TM","x":62,"y":0.9},{"p":"IS","s":"TM","x":64,"y":1},{"p":"IS","s":"TM","x":66,"y":1.3},{"p":"IS","s":"TM","x":70,"y":1.5},{"p":"IS","s":"TM","x":75,"y":1.4},{"p":"IS","s":"TM","x":80,"y":1.2},{"p":"IS","s":"TM","x":90,"y":0.8},{"p":"IS","s":"TM","x":100,"y":0.5},
{"p":"IS","s":"TH","x":0,"y":0.1},{"p":"IS","s":"TH","x":2,"y":-0.8},{"p":"IS","s":"TH","x":4,"y":-1.6},{"p":"IS","s":"TH","x":6,"y":-3},{"p":"IS","s":"TH","x":9,"y":-5},{"p":"IS","s":"TH","x":12,"y":-6.1},{"p":"IS","s":"TH","x":15,"y":-7.8},{"p":"IS","s":"TH","x":18,"y":-8.9},{"p":"IS","s":"TH","x":21,"y":-10},{"p":"IS","s":"TH","x":24,"y":-10.9},{"p":"IS","s":"TH","x":27,"y":-12.3},{"p":"IS","s":"TH","x":30,"y":-14.2},{"p":"IS","s":"TH","x":32,"y":-15},{"p":"IS","s":"TH","x":35,"y":-15},{"p":"IS","s":"TH","x":40,"y":-15},{"p":"IS","s":"TH","x":45,"y":-15},{"p":"IS","s":"TH","x":47,"y":-14.5},{"p":"IS","s":"TH","x":49,"y":-13.1},{"p":"IS","s":"TH","x":51,"y":-9.5},{"p":"IS","s":"TH","x":53,"y":-4.4},{"p":"IS","s":"TH","x":55,"y":-0.5},{"p":"IS","s":"TH","x":57,"y":0.7},{"p":"IS","s":"TH","x":59,"y":0.1},{"p":"IS","s":"TH","x":61,"y":-1},{"p":"IS","s":"TH","x":63,"y":-0.8},{"p":"IS","s":"TH","x":66,"y":-0.2},{"p":"IS","s":"TH","x":70,"y":0.3},{"p":"IS","s":"TH","x":75,"y":0.6},{"p":"IS","s":"TH","x":80,"y":0.7},{"p":"IS","s":"TH","x":90,"y":0.3},{"p":"IS","s":"TH","x":100,"y":-0.2},
{"p":"IV","s":"EB","x":0,"y":13.4},{"p":"IV","s":"EB","x":3,"y":24.6},{"p":"IV","s":"EB","x":6,"y":44.6},{"p":"IV","s":"EB","x":9,"y":67},{"p":"IV","s":"EB","x":12,"y":87},{"p":"IV","s":"EB","x":14,"y":97},{"p":"IV","s":"EB","x":16,"y":100},{"p":"IV","s":"EB","x":18,"y":95},{"p":"IV","s":"EB","x":20,"y":82.6},{"p":"IV","s":"EB","x":22,"y":72.5},{"p":"IV","s":"EB","x":24,"y":69.2},{"p":"IV","s":"EB","x":26,"y":69.6},{"p":"IV","s":"EB","x":28,"y":70.3},{"p":"IV","s":"EB","x":31,"y":71.4},{"p":"IV","s":"EB","x":33,"y":69.2},{"p":"IV","s":"EB","x":35,"y":65.8},{"p":"IV","s":"EB","x":38,"y":59.2},{"p":"IV","s":"EB","x":40,"y":57},{"p":"IV","s":"EB","x":43,"y":51.3},{"p":"IV","s":"EB","x":46,"y":42.4},{"p":"IV","s":"EB","x":48,"y":41.3},{"p":"IV","s":"EB","x":50,"y":35.7},{"p":"IV","s":"EB","x":53,"y":24.6},{"p":"IV","s":"EB","x":56,"y":15.6},{"p":"IV","s":"EB","x":58,"y":11.2},{"p":"IV","s":"EB","x":60,"y":7.8},{"p":"IV","s":"EB","x":62,"y":5.6},{"p":"IV","s":"EB","x":65,"y":4.5},{"p":"IV","s":"EB","x":70,"y":4.9},{"p":"IV","s":"EB","x":75,"y":7.1},{"p":"IV","s":"EB","x":78,"y":9.4},{"p":"IV","s":"EB","x":80,"y":8.5},{"p":"IV","s":"EB","x":85,"y":7.8},{"p":"IV","s":"EB","x":90,"y":7.1},{"p":"IV","s":"EB","x":95,"y":4.5},{"p":"IV","s":"EB","x":98,"y":7.8},{"p":"IV","s":"EB","x":100,"y":13.8},
{"p":"IV","s":"EM","x":0,"y":35.7},{"p":"IV","s":"EM","x":3,"y":42.4},{"p":"IV","s":"EM","x":6,"y":53.6},{"p":"IV","s":"EM","x":9,"y":69.2},{"p":"IV","s":"EM","x":12,"y":82.6},{"p":"IV","s":"EM","x":14,"y":88.2},{"p":"IV","s":"EM","x":16,"y":90.4},{"p":"IV","s":"EM","x":18,"y":88.2},{"p":"IV","s":"EM","x":20,"y":82.6},{"p":"IV","s":"EM","x":22,"y":75.9},{"p":"IV","s":"EM","x":25,"y":70.3},{"p":"IV","s":"EM","x":27,"y":71.4},{"p":"IV","s":"EM","x":29,"y":69.2},{"p":"IV","s":"EM","x":31,"y":68},{"p":"IV","s":"EM","x":33,"y":65.8},{"p":"IV","s":"EM","x":35,"y":63.6},{"p":"IV","s":"EM","x":38,"y":58},{"p":"IV","s":"EM","x":40,"y":55.8},{"p":"IV","s":"EM","x":42,"y":55.4},{"p":"IV","s":"EM","x":44,"y":54.7},{"p":"IV","s":"EM","x":46,"y":46.9},{"p":"IV","s":"EM","x":48,"y":37.9},{"p":"IV","s":"EM","x":50,"y":26.8},{"p":"IV","s":"EM","x":53,"y":13.4},{"p":"IV","s":"EM","x":56,"y":5.6},{"p":"IV","s":"EM","x":58,"y":4.5},{"p":"IV","s":"EM","x":60,"y":5.6},{"p":"IV","s":"EM","x":63,"y":6.2},{"p":"IV","s":"EM","x":66,"y":5.6},{"p":"IV","s":"EM","x":70,"y":4},{"p":"IV","s":"EM","x":75,"y":6.2},{"p":"IV","s":"EM","x":80,"y":10},{"p":"IV","s":"EM","x":85,"y":11.2},{"p":"IV","s":"EM","x":90,"y":11.2},{"p":"IV","s":"EM","x":95,"y":11.2},{"p":"IV","s":"EM","x":98,"y":20},{"p":"IV","s":"EM","x":100,"y":33.5},
{"p":"IV","s":"EH","x":0,"y":33.5},{"p":"IV","s":"EH","x":3,"y":42.4},{"p":"IV","s":"EH","x":6,"y":53.6},{"p":"IV","s":"EH","x":9,"y":67},{"p":"IV","s":"EH","x":12,"y":78},{"p":"IV","s":"EH","x":14,"y":82.6},{"p":"IV","s":"EH","x":16,"y":84.8},{"p":"IV","s":"EH","x":18,"y":81.5},{"p":"IV","s":"EH","x":20,"y":74.8},{"p":"IV","s":"EH","x":22,"y":70.3},{"p":"IV","s":"EH","x":25,"y":67},{"p":"IV","s":"EH","x":28,"y":62.5},{"p":"IV","s":"EH","x":30,"y":61.4},{"p":"IV","s":"EH","x":33,"y":62},{"p":"IV","s":"EH","x":35,"y":59.2},{"p":"IV","s":"EH","x":38,"y":51.3},{"p":"IV","s":"EH","x":40,"y":49.1},{"p":"IV","s":"EH","x":43,"y":50.2},{"p":"IV","s":"EH","x":46,"y":33.5},{"p":"IV","s":"EH","x":48,"y":22.3},{"p":"IV","s":"EH","x":50,"y":13.4},{"p":"IV","s":"EH","x":53,"y":7.8},{"p":"IV","s":"EH","x":56,"y":5.6},{"p":"IV","s":"EH","x":60,"y":4.5},{"p":"IV","s":"EH","x":65,"y":5.1},{"p":"IV","s":"EH","x":70,"y":4},{"p":"IV","s":"EH","x":75,"y":6.7},{"p":"IV","s":"EH","x":80,"y":9.4},{"p":"IV","s":"EH","x":85,"y":10},{"p":"IV","s":"EH","x":90,"y":10},{"p":"IV","s":"EH","x":95,"y":10.7},{"p":"IV","s":"EH","x":98,"y":20},{"p":"IV","s":"EH","x":100,"y":34.6},
{"p":"IV","s":"TM","x":0,"y":-1},{"p":"IV","s":"TM","x":1,"y":4},{"p":"IV","s":"TM","x":2,"y":6.6},{"p":"IV","s":"TM","x":3,"y":7.4},{"p":"IV","s":"TM","x":4,"y":8.1},{"p":"IV","s":"TM","x":5,"y":7.7},{"p":"IV","s":"TM","x":7,"y":6.6},{"p":"IV","s":"TM","x":10,"y":6.1},{"p":"IV","s":"TM","x":13,"y":5.4},{"p":"IV","s":"TM","x":15,"y":4.7},{"p":"IV","s":"TM","x":18,"y":3.7},{"p":"IV","s":"TM","x":20,"y":3},{"p":"IV","s":"TM","x":25,"y":1.7},{"p":"IV","s":"TM","x":30,"y":0.7},{"p":"IV","s":"TM","x":35,"y":-0.5},{"p":"IV","s":"TM","x":40,"y":-1.5},{"p":"IV","s":"TM","x":45,"y":-2.2},{"p":"IV","s":"TM","x":48,"y":-1.7},{"p":"IV","s":"TM","x":50,"y":-0.3},{"p":"IV","s":"TM","x":52,"y":1.4},{"p":"IV","s":"TM","x":55,"y":3.7},{"p":"IV","s":"TM","x":57,"y":5},{"p":"IV","s":"TM","x":58,"y":5.5},{"p":"IV","s":"TM","x":59,"y":4.7},{"p":"IV","s":"TM","x":60,"y":1.4},{"p":"IV","s":"TM","x":61,"y":-0.5},{"p":"IV","s":"TM","x":62,"y":-1.1},{"p":"IV","s":"TM","x":63,"y":-0.3},{"p":"IV","s":"TM","x":64,"y":-1},{"p":"IV","s":"TM","x":66,"y":0},{"p":"IV","s":"TM","x":68,"y":0.7},{"p":"IV","s":"TM","x":70,"y":1},{"p":"IV","s":"TM","x":75,"y":0.7},{"p":"IV","s":"TM","x":80,"y":0.4},{"p":"IV","s":"TM","x":85,"y":-0.5},{"p":"IV","s":"TM","x":90,"y":-1.1},{"p":"IV","s":"TM","x":95,"y":-1.8},{"p":"IV","s":"TM","x":98,"y":-2},{"p":"IV","s":"TM","x":100,"y":0.4},
{"p":"IV","s":"TH","x":0,"y":-0.3},{"p":"IV","s":"TH","x":1,"y":4},{"p":"IV","s":"TH","x":2,"y":6.2},{"p":"IV","s":"TH","x":4,"y":8.2},{"p":"IV","s":"TH","x":6,"y":7.1},{"p":"IV","s":"TH","x":8,"y":5.9},{"p":"IV","s":"TH","x":10,"y":5.7},{"p":"IV","s":"TH","x":13,"y":4.7},{"p":"IV","s":"TH","x":15,"y":3.7},{"p":"IV","s":"TH","x":18,"y":2.7},{"p":"IV","s":"TH","x":20,"y":2},{"p":"IV","s":"TH","x":25,"y":0.5},{"p":"IV","s":"TH","x":30,"y":-0.8},{"p":"IV","s":"TH","x":35,"y":-2},{"p":"IV","s":"TH","x":38,"y":-2.7},{"p":"IV","s":"TH","x":42,"y":-3.1},{"p":"IV","s":"TH","x":45,"y":-2.7},{"p":"IV","s":"TH","x":48,"y":-1.7},{"p":"IV","s":"TH","x":50,"y":0.4},{"p":"IV","s":"TH","x":52,"y":3},{"p":"IV","s":"TH","x":54,"y":5},{"p":"IV","s":"TH","x":56,"y":5.4},{"p":"IV","s":"TH","x":57,"y":5.2},{"p":"IV","s":"TH","x":58,"y":3.7},{"p":"IV","s":"TH","x":59,"y":1.4},{"p":"IV","s":"TH","x":60,"y":-0.6},{"p":"IV","s":"TH","x":62,"y":-1},{"p":"IV","s":"TH","x":64,"y":-1},{"p":"IV","s":"TH","x":66,"y":0},{"p":"IV","s":"TH","x":70,"y":0},{"p":"IV","s":"TH","x":75,"y":0},{"p":"IV","s":"TH","x":80,"y":0},{"p":"IV","s":"TH","x":85,"y":-0.6},{"p":"IV","s":"TH","x":90,"y":-1.3},{"p":"IV","s":"TH","x":95,"y":-1.8},{"p":"IV","s":"TH","x":98,"y":-1.8},{"p":"IV","s":"TH","x":100,"y":0}
]},
"spacing":3,
"vconcat":[
{"spacing":4,"hconcat":[
 {"width":191,"height":150,"transform":[{"filter":"datum.p=='DS'"}],
  "encoding":{"x":{"field":"x","type":"quantitative","scale":{"domain":[0,100],"nice":false},"axis":{"values":[0,50,100],"title":"Decline Stride [%]"}},
   "color":{"field":"s","type":"nominal","scale":{"domain":["EB","EM","EH","TM","TH"],"range":["#000000","#0000FF","#0000FF","#FF0000","#FF0000"]},"legend":{"labelExpr":"{'EB':'EMG (Bare)','EM':'EMG (MPE)','EH':'EMG (HAM)','TM':'Exo Torque (MPE)','TH':'Exo Torque (HAM)'}[datum.label]"}},
   "strokeDash":{"field":"s","type":"nominal","scale":{"domain":["EB","EM","EH","TM","TH"],"range":[[1,0],[1,0],[6,4],[1,0],[6,4]]},"legend":{"labelExpr":"{'EB':'EMG (Bare)','EM':'EMG (MPE)','EH':'EMG (HAM)','TM':'Exo Torque (MPE)','TH':'Exo Torque (HAM)'}[datum.label]"}}},
  "layer":[
   {"transform":[{"filter":"indexof(datum.s,'E')==0"}],"mark":{"type":"line","strokeWidth":1.6,"interpolate":"monotone","clip":true},
    "encoding":{"y":{"field":"y","type":"quantitative","scale":{"domain":[0,100],"nice":false},"axis":{"values":[0,50,100],"title":"SOL EMG [%MVC]"}}}},
   {"transform":[{"filter":"indexof(datum.s,'T')==0"}],"mark":{"type":"line","strokeWidth":1.6,"interpolate":"monotone","clip":true},
    "encoding":{"y":{"field":"y","type":"quantitative","scale":{"domain":[-15,10],"nice":false,"zero":false},"axis":{"orient":"right","values":[-15,-10,-5,0,5,10],"title":"Ankle Torque [Nm]","titleColor":"#FF0000","labelColor":"#FF0000","domainColor":"#FF0000","tickColor":"#FF0000","titleAngle":270,"titleBaseline":"top","titlePadding":3}}}}
  ],"resolve":{"scale":{"y":"independent"}}},
 {"width":195,"height":150,"transform":[{"filter":"datum.p=='DV'"}],
  "encoding":{"x":{"field":"x","type":"quantitative","scale":{"domain":[0,100],"nice":false},"axis":{"values":[0,50,100],"title":"Decline Stride [%]"}},
   "color":{"field":"s","type":"nominal","scale":{"domain":["EB","EM","EH","TM","TH"],"range":["#000000","#0000FF","#0000FF","#FF0000","#FF0000"]},"legend":{"labelExpr":"{'EB':'EMG (Bare)','EM':'EMG (MPE)','EH':'EMG (HAM)','TM':'Exo Torque (MPE)','TH':'Exo Torque (HAM)'}[datum.label]"}},
   "strokeDash":{"field":"s","type":"nominal","scale":{"domain":["EB","EM","EH","TM","TH"],"range":[[1,0],[1,0],[6,4],[1,0],[6,4]]},"legend":{"labelExpr":"{'EB':'EMG (Bare)','EM':'EMG (MPE)','EH':'EMG (HAM)','TM':'Exo Torque (MPE)','TH':'Exo Torque (HAM)'}[datum.label]"}}},
  "layer":[
   {"transform":[{"filter":"indexof(datum.s,'E')==0"}],"mark":{"type":"line","strokeWidth":1.6,"interpolate":"monotone","clip":true},
    "encoding":{"y":{"field":"y","type":"quantitative","scale":{"domain":[0,100],"nice":false},"axis":{"values":[0,50,100],"title":"VMO EMG [%MVC]"}}}},
   {"transform":[{"filter":"indexof(datum.s,'T')==0"}],"mark":{"type":"line","strokeWidth":1.6,"interpolate":"monotone","clip":true},
    "encoding":{"y":{"field":"y","type":"quantitative","scale":{"domain":[-5,10],"nice":false,"zero":false},"axis":{"orient":"right","values":[-5,0,5,10],"title":"Knee Torque [Nm]","titleColor":"#FF0000","labelColor":"#FF0000","domainColor":"#FF0000","tickColor":"#FF0000","titleAngle":270,"titleBaseline":"top","titlePadding":3}}}}
  ],"resolve":{"scale":{"y":"independent"}}}
]},
{"spacing":4,"hconcat":[
 {"width":191,"height":150,"transform":[{"filter":"datum.p=='LS'"}],
  "encoding":{"x":{"field":"x","type":"quantitative","scale":{"domain":[0,100],"nice":false},"axis":{"values":[0,50,100],"title":"Level Stride [%]"}},
   "color":{"field":"s","type":"nominal","scale":{"domain":["EB","EM","EH","TM","TH"],"range":["#000000","#0000FF","#0000FF","#FF0000","#FF0000"]},"legend":{"labelExpr":"{'EB':'EMG (Bare)','EM':'EMG (MPE)','EH':'EMG (HAM)','TM':'Exo Torque (MPE)','TH':'Exo Torque (HAM)'}[datum.label]"}},
   "strokeDash":{"field":"s","type":"nominal","scale":{"domain":["EB","EM","EH","TM","TH"],"range":[[1,0],[1,0],[6,4],[1,0],[6,4]]},"legend":{"labelExpr":"{'EB':'EMG (Bare)','EM':'EMG (MPE)','EH':'EMG (HAM)','TM':'Exo Torque (MPE)','TH':'Exo Torque (HAM)'}[datum.label]"}}},
  "layer":[
   {"transform":[{"filter":"indexof(datum.s,'E')==0"}],"mark":{"type":"line","strokeWidth":1.6,"interpolate":"monotone","clip":true},
    "encoding":{"y":{"field":"y","type":"quantitative","scale":{"domain":[0,100],"nice":false},"axis":{"values":[0,50,100],"title":"SOL EMG [%MVC]"}}}},
   {"transform":[{"filter":"indexof(datum.s,'T')==0"}],"mark":{"type":"line","strokeWidth":1.6,"interpolate":"monotone","clip":true},
    "encoding":{"y":{"field":"y","type":"quantitative","scale":{"domain":[-15,5],"nice":false,"zero":false},"axis":{"orient":"right","values":[-15,-10,-5,0,5],"title":"Ankle Torque [Nm]","titleColor":"#FF0000","labelColor":"#FF0000","domainColor":"#FF0000","tickColor":"#FF0000","titleAngle":270,"titleBaseline":"top","titlePadding":3}}}}
  ],"resolve":{"scale":{"y":"independent"}}},
 {"width":195,"height":150,"transform":[{"filter":"datum.p=='LV'"}],
  "encoding":{"x":{"field":"x","type":"quantitative","scale":{"domain":[0,100],"nice":false},"axis":{"values":[0,50,100],"title":"Level Stride [%]"}},
   "color":{"field":"s","type":"nominal","scale":{"domain":["EB","EM","EH","TM","TH"],"range":["#000000","#0000FF","#0000FF","#FF0000","#FF0000"]},"legend":{"labelExpr":"{'EB':'EMG (Bare)','EM':'EMG (MPE)','EH':'EMG (HAM)','TM':'Exo Torque (MPE)','TH':'Exo Torque (HAM)'}[datum.label]"}},
   "strokeDash":{"field":"s","type":"nominal","scale":{"domain":["EB","EM","EH","TM","TH"],"range":[[1,0],[1,0],[6,4],[1,0],[6,4]]},"legend":{"labelExpr":"{'EB':'EMG (Bare)','EM':'EMG (MPE)','EH':'EMG (HAM)','TM':'Exo Torque (MPE)','TH':'Exo Torque (HAM)'}[datum.label]"}}},
  "layer":[
   {"transform":[{"filter":"indexof(datum.s,'E')==0"}],"mark":{"type":"line","strokeWidth":1.6,"interpolate":"monotone","clip":true},
    "encoding":{"y":{"field":"y","type":"quantitative","scale":{"domain":[0,100],"nice":false},"axis":{"values":[0,50,100],"title":"VMO EMG [%MVC]"}}}},
   {"transform":[{"filter":"indexof(datum.s,'T')==0"}],"mark":{"type":"line","strokeWidth":1.6,"interpolate":"monotone","clip":true},
    "encoding":{"y":{"field":"y","type":"quantitative","scale":{"domain":[-5,10],"nice":false,"zero":false},"axis":{"orient":"right","values":[-5,0,5,10],"title":"Knee Torque [Nm]","titleColor":"#FF0000","labelColor":"#FF0000","domainColor":"#FF0000","tickColor":"#FF0000","titleAngle":270,"titleBaseline":"top","titlePadding":3}}}}
  ],"resolve":{"scale":{"y":"independent"}}}
]},
{"spacing":4,"hconcat":[
 {"width":191,"height":150,"transform":[{"filter":"datum.p=='IS'"}],
  "encoding":{"x":{"field":"x","type":"quantitative","scale":{"domain":[0,100],"nice":false},"axis":{"values":[0,50,100],"title":"Incline Stride [%]"}},
   "color":{"field":"s","type":"nominal","scale":{"domain":["EB","EM","EH","TM","TH"],"range":["#000000","#0000FF","#0000FF","#FF0000","#FF0000"]},"legend":{"labelExpr":"{'EB':'EMG (Bare)','EM':'EMG (MPE)','EH':'EMG (HAM)','TM':'Exo Torque (MPE)','TH':'Exo Torque (HAM)'}[datum.label]"}},
   "strokeDash":{"field":"s","type":"nominal","scale":{"domain":["EB","EM","EH","TM","TH"],"range":[[1,0],[1,0],[6,4],[1,0],[6,4]]},"legend":{"labelExpr":"{'EB':'EMG (Bare)','EM':'EMG (MPE)','EH':'EMG (HAM)','TM':'Exo Torque (MPE)','TH':'Exo Torque (HAM)'}[datum.label]"}}},
  "layer":[
   {"transform":[{"filter":"indexof(datum.s,'E')==0"}],"mark":{"type":"line","strokeWidth":1.6,"interpolate":"monotone","clip":true},
    "encoding":{"y":{"field":"y","type":"quantitative","scale":{"domain":[0,100],"nice":false},"axis":{"values":[0,50,100],"title":"SOL EMG [%MVC]"}}}},
   {"transform":[{"filter":"indexof(datum.s,'T')==0"}],"mark":{"type":"line","strokeWidth":1.6,"interpolate":"monotone","clip":true},
    "encoding":{"y":{"field":"y","type":"quantitative","scale":{"domain":[-20,5],"nice":false,"zero":false},"axis":{"orient":"right","values":[-20,-15,-10,-5,0,5],"title":"Ankle Torque [Nm]","titleColor":"#FF0000","labelColor":"#FF0000","domainColor":"#FF0000","tickColor":"#FF0000","titleAngle":270,"titleBaseline":"top","titlePadding":3}}}}
  ],"resolve":{"scale":{"y":"independent"}}},
 {"width":195,"height":150,"transform":[{"filter":"datum.p=='IV'"}],
  "encoding":{"x":{"field":"x","type":"quantitative","scale":{"domain":[0,100],"nice":false},"axis":{"values":[0,50,100],"title":"Incline Stride [%]"}},
   "color":{"field":"s","type":"nominal","scale":{"domain":["EB","EM","EH","TM","TH"],"range":["#000000","#0000FF","#0000FF","#FF0000","#FF0000"]},"legend":{"labelExpr":"{'EB':'EMG (Bare)','EM':'EMG (MPE)','EH':'EMG (HAM)','TM':'Exo Torque (MPE)','TH':'Exo Torque (HAM)'}[datum.label]"}},
   "strokeDash":{"field":"s","type":"nominal","scale":{"domain":["EB","EM","EH","TM","TH"],"range":[[1,0],[1,0],[6,4],[1,0],[6,4]]},"legend":{"labelExpr":"{'EB':'EMG (Bare)','EM':'EMG (MPE)','EH':'EMG (HAM)','TM':'Exo Torque (MPE)','TH':'Exo Torque (HAM)'}[datum.label]"}}},
  "layer":[
   {"transform":[{"filter":"indexof(datum.s,'E')==0"}],"mark":{"type":"line","strokeWidth":1.6,"interpolate":"monotone","clip":true},
    "encoding":{"y":{"field":"y","type":"quantitative","scale":{"domain":[0,100],"nice":false},"axis":{"values":[0,50,100],"title":"VMO EMG [%MVC]"}}}},
   {"transform":[{"filter":"indexof(datum.s,'T')==0"}],"mark":{"type":"line","strokeWidth":1.6,"interpolate":"monotone","clip":true},
    "encoding":{"y":{"field":"y","type":"quantitative","scale":{"domain":[-5,10],"nice":false,"zero":false},"axis":{"orient":"right","values":[-5,0,5,10],"title":"Knee Torque [Nm]","titleColor":"#FF0000","labelColor":"#FF0000","domainColor":"#FF0000","tickColor":"#FF0000","titleAngle":270,"titleBaseline":"top","titlePadding":3}}}}
  ],"resolve":{"scale":{"y":"independent"}}}
]}
]
}
